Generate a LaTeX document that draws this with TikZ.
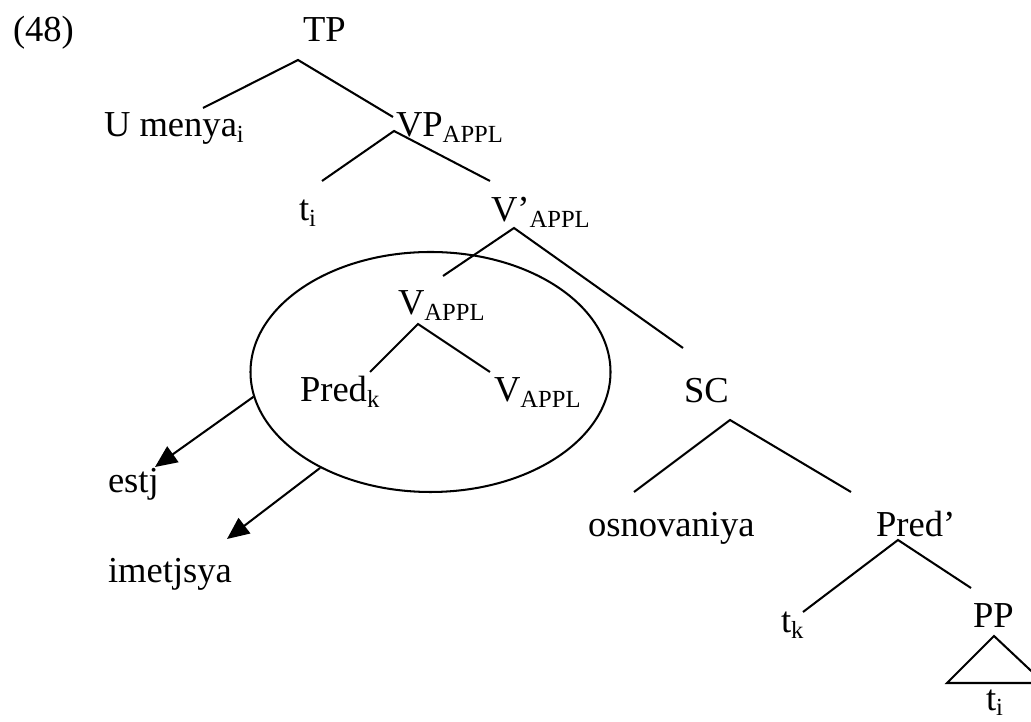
\documentclass[tikz,border=0pt]{standalone}
\usepackage{fontspec}
\setmainfont{Liberation Serif}
\usetikzlibrary{arrows.meta,shapes.geometric}
\newcommand{\lowtxt}[1]{\raisebox{-0.14em}{\fontsize{17.5}{20}\selectfont #1}}

\begin{document}
\begin{tikzpicture}[>={Triangle[length=0.55cm,width=0.48cm]},line width=1.45pt,font=\fontsize{26}{30}\selectfont]
\tikzstyle{w}=[anchor=base west,inner sep=0pt]
\useasboundingbox (0,0) rectangle (25.775,18.05);
\node[w] (ex) at (0.3,17.0) {(48)};
% labels of the tree
\node[w] (tp) at (7.55,17.0) {TP};
\node[w] (umenya) at (2.575,14.625) {U menya\lowtxt{i}}; \node[w] (vp) at (9.875,14.625) {VP\lowtxt{APPL}};
\node[w] (ti) at (7.45,12.525) {t\lowtxt{i}}; \node[w] (vbar) at (12.25,12.5) {V’\lowtxt{APPL}};
\node[w] (v) at (9.925,10.175) {V\lowtxt{APPL}};
\node[w] (predk) at (7.475,8.0) {Pred\lowtxt{k}}; \node[w] (vlow) at (12.325,8.0) {V\lowtxt{APPL}};
\node[w] (sc) at (17.075,7.975) {SC};
\node[w] (osn) at (14.675,4.625) {osnovaniya}; \node[w] (predbar) at (21.875,4.625) {Pred’};
\node[w] (tk) at (19.5,2.225) {t\lowtxt{k}}; \node[w] (pp) at (24.3,2.35) {PP};
\node[w] (tibot) at (24.625,0.28) {t\lowtxt{i}};
\node[w] (estj) at (2.675,5.725) {estj}; \node[w] (imet) at (2.675,3.475) {imetjsya};
% branches
\coordinate (tp-b) at (7.45,16.55); \coordinate (umenya-t) at (5.075,15.35); \coordinate (vp-t) at (9.825,15.125);
\draw (umenya-t) -- (tp-b) -- (vp-t);
\coordinate (vp-b) at (9.85,14.775); \coordinate (ti-t) at (8.05,13.525); \coordinate (vbar-t) at (12.25,13.525);
\draw (ti-t) -- (vp-b) -- (vbar-t);
\coordinate (vbar-b) at (12.85,12.35); \coordinate (v-t) at (11.075,11.15); \coordinate (sc-t) at (17.075,9.35);
\draw (v-t) -- (vbar-b) -- (sc-t);
\coordinate (v-b) at (10.45,9.95); \coordinate (predk-t) at (9.25,8.75); \coordinate (vlow-t) at (12.25,8.75);
\draw (predk-t) -- (v-b) -- (vlow-t);
\coordinate (sc-b) at (18.25,7.55); \coordinate (osn-t) at (15.85,5.75); \coordinate (predbar-t) at (21.275,5.75);
\draw (osn-t) -- (sc-b) -- (predbar-t);
\coordinate (predbar-b) at (22.45,4.55); \coordinate (tk-t) at (20.075,2.75); \coordinate (pp-t) at (24.275,3.35);
\draw (tk-t) -- (predbar-b) -- (pp-t);
% triangle under PP
\coordinate (pp-b) at (24.85,2.15); \coordinate (tri-l) at (23.675,0.975); \coordinate (tri-r) at (26.1,0.975);
\draw (tri-l) -- (pp-b) -- (tri-r) -- cycle;
% the complex head and its spell-outs
\node[draw,ellipse,minimum width=9cm,minimum height=6cm,inner sep=0pt] (cplx) at (10.7625,8.75) {};
\coordinate (estj-in) at (3.875,6.375); \coordinate (imet-in) at (5.675,4.575);
\draw[->] (cplx.188) -- (estj-in);
\draw[->] (cplx.221) -- (imet-in);
\end{tikzpicture}
\end{document}
